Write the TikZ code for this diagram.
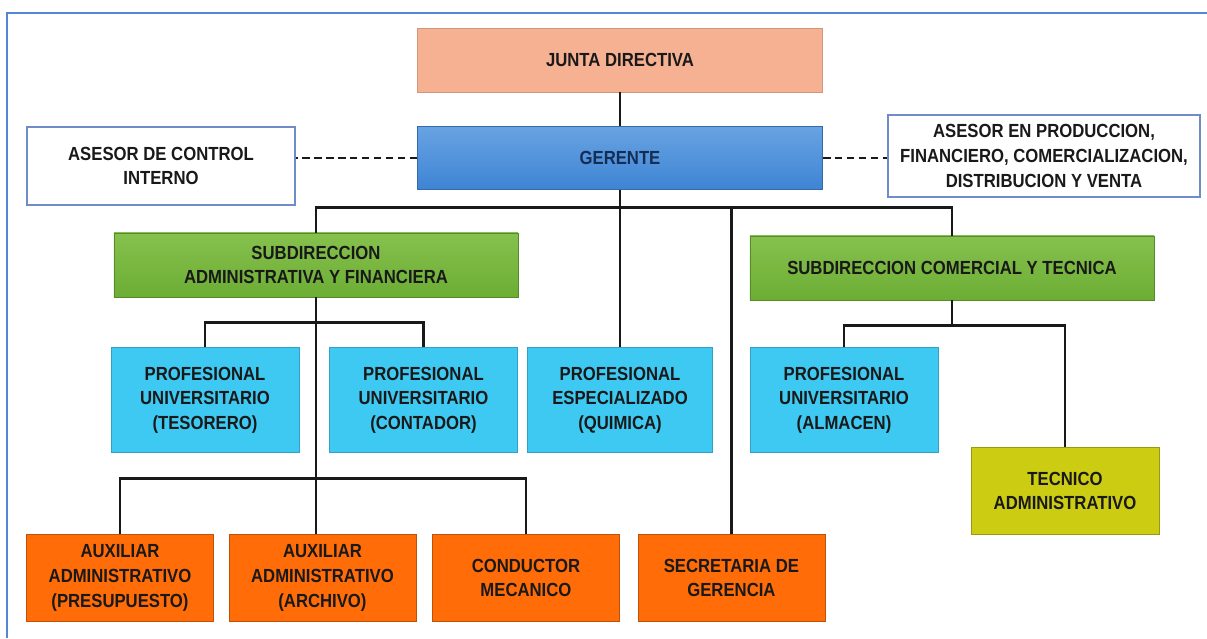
\documentclass[tikz,border=0pt]{standalone}
\usepackage{fontspec}
\setmainfont{Liberation Sans}[FakeStretch=0.88]
\usetikzlibrary{positioning, calc}

\definecolor{juntaC}{RGB}{246,176,146}
\definecolor{gerTop}{RGB}{104,163,226}
\definecolor{gerBot}{RGB}{62,132,212}
\definecolor{gerText}{RGB}{20,45,85}
\definecolor{subTop}{RGB}{134,193,78}
\definecolor{subBot}{RGB}{108,173,52}
\definecolor{profC}{RGB}{62,201,242}
\definecolor{auxC}{RGB}{255,108,8}
\definecolor{tecC}{RGB}{204,204,18}
\definecolor{asesorC}{RGB}{112,140,200}
\definecolor{frameC}{RGB}{84,134,210}

\begin{document}
\begin{tikzpicture}[x=0.025cm, y=-0.025cm]

% Styles
\tikzstyle{unit} = [rectangle, align=center, text centered, font=\bfseries\fontsize{13.5}{17.5}\selectfont, inner sep=2pt, text=black!90]
\tikzstyle{junta} = [unit, minimum width=10.125cm, minimum height=1.6cm, fill=juntaC, draw=juntaC!85!black, line width=0.3pt]
\tikzstyle{gerente} = [unit, minimum width=10.125cm, minimum height=1.575cm, top color=gerTop, bottom color=gerBot, draw=gerBot!80!black, line width=0.3pt, text=gerText]
\tikzstyle{asesor} = [unit, fill=white, draw=asesorC, line width=0.8pt]
\tikzstyle{subdir} = [unit, minimum width=10.1cm, minimum height=1.6cm, top color=subTop, bottom color=subBot, draw=subBot!80!black, line width=0.3pt]
\tikzstyle{prof} = [unit, minimum width=4.7cm, minimum height=2.625cm, fill=profC, draw=profC!80!black, line width=0.3pt]
\tikzstyle{aux} = [unit, minimum width=4.675cm, minimum height=2.175cm, fill=auxC, draw=auxC!75!black, line width=0.3pt]
\tikzstyle{tec} = [unit, minimum width=4.7cm, minimum height=2.175cm, fill=tecC, draw=tecC!75!black, line width=0.3pt]
\tikzstyle{link} = [line width=2pt, black!90]
\tikzstyle{staff} = [line width=2pt, black!90, dash pattern=on 5.5pt off 3pt]

\useasboundingbox (0,0) rectangle (1207,638);

% outer frame
\draw[frameC, line width=1.2pt] (7,638) -- (7,13) -- (1207,13);

% --- Nodes ---

% 1. Top
\node (junta) [junta] at (620,60) {JUNTA DIRECTIVA};
\node (gerente) [gerente] at (620,158) {GERENTE};

% 2. Advisors
\node (asesorci) [asesor, minimum width=6.7cm, minimum height=1.95cm] at (161,166) {ASESOR DE CONTROL\\INTERNO};
\node (asesorpf) [asesor, minimum width=7.8cm, minimum height=2.05cm] at (1044,156) {ASESOR EN PRODUCCION,\\FINANCIERO, COMERCIALIZACION,\\DISTRIBUCION Y VENTA};

% 3. Sub-directions
\node (subadm) [subdir] at (316,265) {SUBDIRECCION\\ADMINISTRATIVA Y FINANCIERA};
\node (subcom) [subdir] at (952,268) {SUBDIRECCION COMERCIAL Y TECNICA};

% 4. Professionals
\node (tesorero) [prof] at (205,400) {PROFESIONAL\\UNIVERSITARIO\\(TESORERO)};
\node (contador) [prof, right=0.75cm of tesorero] {PROFESIONAL\\UNIVERSITARIO\\(CONTADOR)};
\node (quimica) [prof, minimum width=4.625cm] at (620,400) {PROFESIONAL\\ESPECIALIZADO\\(QUIMICA)};
\node (almacen) [prof] at (844,400) {PROFESIONAL\\UNIVERSITARIO\\(ALMACEN)};
\node (tecnico) [tec] at (1065,491) {TECNICO\\ADMINISTRATIVO};

% 5. Auxiliary staff
\node (presupuesto) [aux] at (120,578) {AUXILIAR\\ADMINISTRATIVO\\(PRESUPUESTO)};
\node (archivo) [aux, right=0.375cm of presupuesto] {AUXILIAR\\ADMINISTRATIVO\\(ARCHIVO)};
\node (conductor) [aux, right=0.4cm of archivo] {CONDUCTOR\\MECANICO};
\node (secretaria) [aux, right=0.45cm of conductor] {SECRETARIA DE\\GERENCIA};

% --- Connectors ---
\draw[link] (junta) -- (gerente);
\draw[staff] (gerente.west) -- (gerente.west -| asesorci.east);
\draw[staff] (gerente.east) -- (gerente.east -| asesorpf.west);

% main bus under Gerente
\draw[link] (gerente.south) -- (quimica.north);
\draw[link] (subadm.north) -- ++(0,-25) coordinate (bus) -| (subcom.north);
\draw[link] (secretaria.north) -- (secretaria.north |- bus);

% administrative branch
\draw[link] (subadm.south) -- ++(0,181) coordinate (auxbus);
\path (subadm.south) ++(0,25) coordinate (profbus);
\draw[link] (tesorero.north) |- (profbus) -| (contador.north);
\draw[link] (presupuesto.north) |- (auxbus) -| (conductor.north);
\draw[link] (auxbus) -- (auxbus |- archivo.north);

% commercial branch
\draw[link] (subcom.south) -- ++(0,25) coordinate (combus);
\draw[link] (almacen.north) |- (combus) -| (tecnico.north);

\end{tikzpicture}
\end{document}
